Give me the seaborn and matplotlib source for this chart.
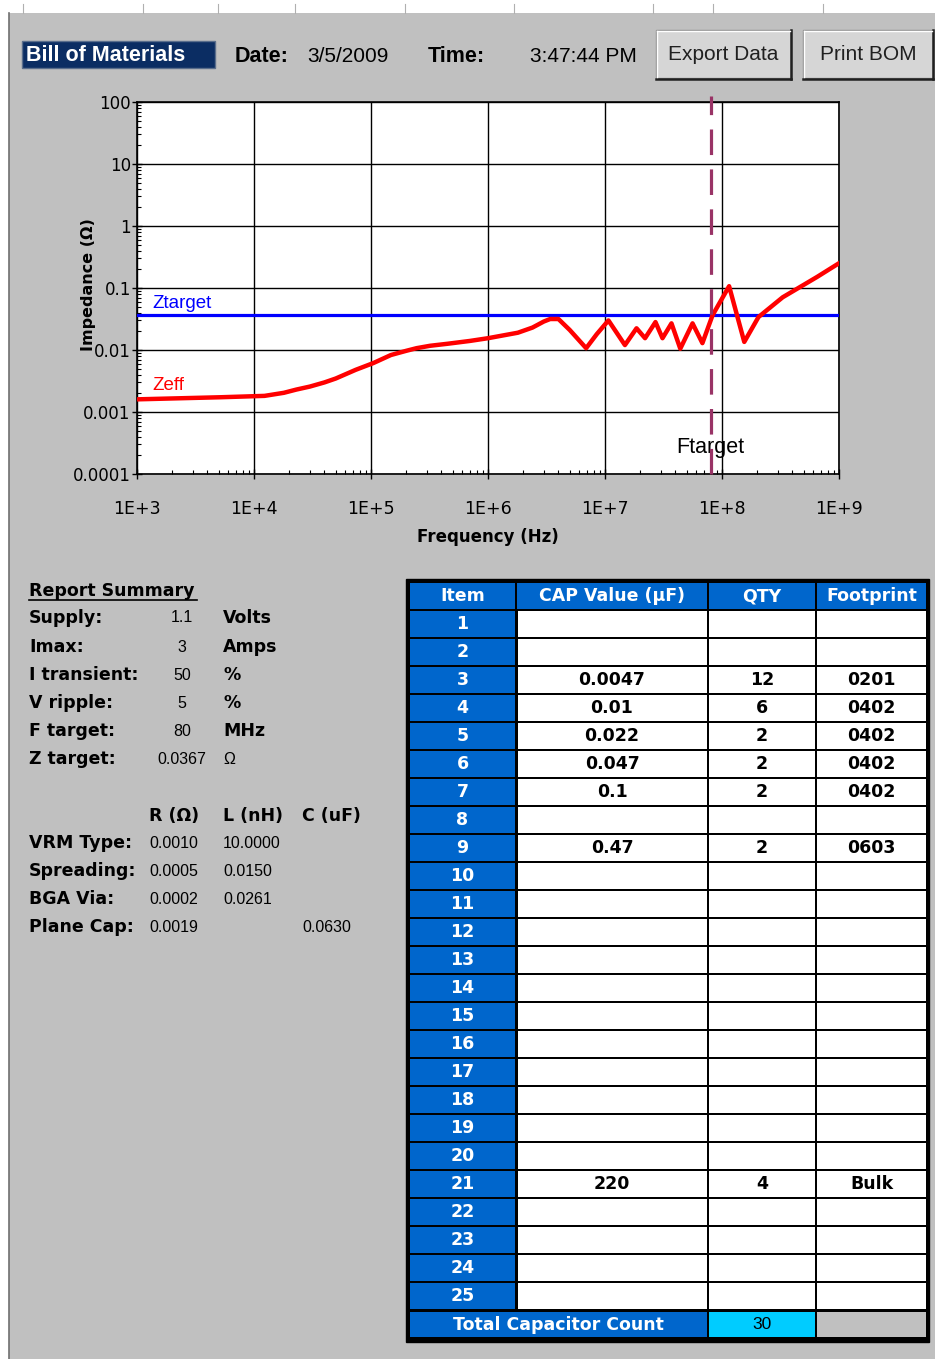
import matplotlib
matplotlib.use("Agg")
import matplotlib.pyplot as plt
from matplotlib.patches import Rectangle
from matplotlib.ticker import FixedLocator, FixedFormatter, LogLocator, NullFormatter
import seaborn as sns

# --- data ------------------------------------------------------------------
freq_hz = [1.0e3, 5.2e3, 1.23e4, 1.8e4, 2.3e4, 3.0e4, 4.0e4, 5.0e4, 7.4e4,
           1.05e5, 1.48e5, 2.0e5, 2.45e5, 3.2e5, 4.5e5, 7.0e5, 1.0e6, 1.8e6,
           2.4e6, 3.0e6, 3.4e6, 4.0e6, 5.0e6, 6.9e6, 8.5e6, 1.07e7, 1.48e7,
           1.86e7, 2.2e7, 2.7e7, 3.1e7, 3.7e7, 4.4e7, 5.6e7, 6.8e7, 8.3e7,
           1.15e8, 1.55e8, 2.05e8, 3.3e8, 6.5e8, 1.0e9]
zeff_ohm = [0.0016, 0.00173, 0.00182, 0.00204, 0.0023, 0.00257, 0.003, 0.00347,
            0.00479, 0.00617, 0.0083, 0.0097, 0.0107, 0.0117, 0.0126, 0.014,
            0.0155, 0.019, 0.023, 0.0288, 0.0316, 0.0316, 0.021, 0.0107, 0.018,
            0.030, 0.012, 0.0224, 0.0155, 0.0282, 0.0155, 0.0269, 0.0105, 0.0269,
            0.0129, 0.0363, 0.107, 0.0135, 0.034, 0.0708, 0.151, 0.251]
z_target = 0.0367
f_target_hz = 80e6

x_ticks = [1e3, 1e4, 1e5, 1e6, 1e7, 1e8, 1e9]
x_tick_labels = ["1E+3", "1E+4", "1E+5", "1E+6", "1E+7", "1E+8", "1E+9"]
y_ticks = [1e-4, 1e-3, 1e-2, 1e-1, 1, 10, 100]
y_tick_labels = ["0.0001", "0.001", "0.01", "0.1", "1", "10", "100"]

summary_labels = ["Supply:", "Imax:", "I transient:", "V ripple:", "F target:", "Z target:"]
summary_values = ["1.1", "3", "50", "5", "80", "0.0367"]
summary_units = ["Volts", "Amps", "%", "%", "MHz", "Ω"]

parasitic_labels = ["VRM Type:", "Spreading:", "BGA Via:", "Plane Cap:"]
r_values = ["0.0010", "0.0005", "0.0002", "0.0019"]
l_values = ["10.0000", "0.0150", "0.0261", ""]
c_values = ["", "", "", "0.0630"]

table_header = ["Item", "CAP Value (µF)", "QTY", "Footprint"]
n_items = 25
bom_item = [3, 4, 5, 6, 7, 9, 21]
bom_cap = ["0.0047", "0.01", "0.022", "0.047", "0.1", "0.47", "220"]
bom_qty = [12, 6, 2, 2, 2, 2, 4]
bom_footprint = ["0201", "0402", "0402", "0402", "0402", "0603", "Bulk"]

# --- colours ----------------------------------------------------------------
GREY = "#C0C0C0"
BLUE_CELL = "#0066CC"
CYAN = "#00CCFF"
NAVY = "#0B2D63"
W, H = 935, 1359

fig = plt.figure(figsize=(W / 100, H / 100), dpi=100, facecolor="white")

# overlay axes in pixel coordinates for the sheet around the chart
ov = fig.add_axes([0, 0, 1, 1])
ov.set_xlim(0, W)
ov.set_ylim(H, 0)
ov.axis("off")

ov.add_patch(Rectangle((9, 13), W - 9, H - 13, facecolor=GREY, edgecolor="none"))
ov.plot([9, 9], [13, H], color="#707070", lw=1.2)
for xt in [23, 143, 218, 295, 405, 514, 653, 713, 823]:
    ov.plot([xt, xt], [4, 13], color="#B0B0B0", lw=0.8)

# header row
ov.add_patch(Rectangle((22, 41), 193, 27, facecolor=NAVY, edgecolor="#5A6E8C", lw=1))
ov.text(26, 55.5, "Bill of Materials", color="white", fontsize=15.5, fontweight="bold",
        family="Liberation Sans", va="center", ha="left")
ov.text(235, 56, "Date:", fontsize=15.5, fontweight="bold", family="Liberation Sans", va="center")
ov.text(307, 56, "3/5/2009", fontsize=15, family="Liberation Sans", va="center")
ov.text(428, 56, "Time:", fontsize=15.5, fontweight="bold", family="Liberation Sans", va="center")
ov.text(530, 56, "3:47:44 PM", fontsize=15, family="Liberation Sans", va="center")

for bx, bw, label in [(656, 135, "Export Data"), (803, 130, "Print BOM")]:
    ov.add_patch(Rectangle((bx, 30), bw, 48, facecolor="#D6D6D6", edgecolor="#909090", lw=1))
    ov.plot([bx, bx + bw], [78.5, 78.5], color="#202020", lw=1.8)
    ov.plot([bx + bw, bx + bw], [30, 79], color="#202020", lw=1.8)
    ov.plot([bx + 1, bx + bw - 1], [31, 31], color="white", lw=1)
    ov.plot([bx + 1, bx + 1], [31, 77], color="white", lw=1)
    ov.text(bx + bw / 2, 55, label, fontsize=15, family="Liberation Sans",
            ha="center", va="center", color="#202020")

# --- impedance chart --------------------------------------------------------
left, right, top, bottom = 137, 839, 102, 474
ax = fig.add_axes([left / W, 1 - bottom / H, (right - left) / W, (bottom - top) / H])
ax.set_facecolor("white")
ax.set_xscale("log")
ax.set_yscale("log")
ax.set_xlim(1e3, 1e9)
ax.set_ylim(1e-4, 1e2)

ax.grid(True, which="major", color="black", lw=1)
ax.set_axisbelow(True)

ax.axhline(z_target, color="#0000FF", lw=2.3, zorder=3)
sns.lineplot(x=freq_hz, y=zeff_ohm, ax=ax, color="#FF0000", lw=3.2,
             estimator=None, sort=False, zorder=4)
ax.axvline(f_target_hz, ymin=0, ymax=1 + 6 / (bottom - top), color="#993366", lw=2.3,
           linestyle=(0, (8, 4.5)), clip_on=False, zorder=5)

ax.text(1.35e3, z_target * 1.55, "Ztarget", color="#0000FF", fontsize=13.5,
        family="Liberation Sans", va="center")
ax.text(1.35e3, 0.00263, "Zeff", color="#FF0000", fontsize=13.5,
        family="Liberation Sans", va="center")
ax.text(f_target_hz * 1.0, 0.000272, "Ftarget", color="black", fontsize=15.5,
        family="Liberation Sans", ha="center", va="center")

ax.xaxis.set_major_locator(FixedLocator(x_ticks))
ax.xaxis.set_major_formatter(FixedFormatter(x_tick_labels))
ax.yaxis.set_major_locator(FixedLocator(y_ticks))
ax.yaxis.set_major_formatter(FixedFormatter(y_tick_labels))
ax.xaxis.set_minor_locator(LogLocator(base=10, subs=range(2, 10), numticks=20))
ax.yaxis.set_minor_locator(LogLocator(base=10, subs=range(2, 10), numticks=20))
ax.xaxis.set_minor_formatter(NullFormatter())
ax.yaxis.set_minor_formatter(NullFormatter())

ax.tick_params(axis="x", which="major", direction="inout", length=7, width=1,
               pad=15, labelsize=12.5)
ax.tick_params(axis="y", which="major", direction="inout", length=7, width=1,
               pad=1, labelsize=12)
ax.tick_params(which="minor", direction="in", length=3, width=0.8)
for lab in ax.get_xticklabels() + ax.get_yticklabels():
    lab.set_family("DejaVu Sans")

for sp in ax.spines.values():
    sp.set_color("black")
    sp.set_linewidth(1.2)

ax.set_xlabel("Frequency (Hz)", fontsize=12, fontweight="bold", family="DejaVu Sans")
ax.xaxis.set_label_coords(0.5, -(528 - bottom) / (bottom - top))
ax.set_ylabel("Impedance (Ω)", fontsize=11.5, fontweight="bold", family="DejaVu Sans")
ax.yaxis.set_label_coords(-(left - 96) / (right - left), (bottom - 285) / (bottom - top))

# --- report summary ---------------------------------------------------------
lab_kw = dict(fontsize=12.5, fontweight="bold", family="DejaVu Sans", va="center")
val_kw = dict(fontsize=11.5, family="Liberation Sans", va="center")

ov.text(29, 591, "Report Summary", **lab_kw)
ov.plot([29, 197], [600, 600], color="black", lw=1.2)
row_y = [618, 647, 675, 703, 731, 759]
for y, lab, val, unit in zip(row_y, summary_labels, summary_values, summary_units):
    ov.text(29, y, lab, **lab_kw)
    ov.text(182, y, val, ha="center", **val_kw)
    if unit == "Ω":
        ov.text(223, y, unit, **val_kw)
    else:
        ov.text(223, y, unit, **lab_kw)

ov.text(149, 816, "R (Ω)", **lab_kw)
ov.text(223, 816, "L (nH)", **lab_kw)
ov.text(302, 816, "C (uF)", **lab_kw)
par_y = [843, 871, 899, 927]
for y, lab, r, l, c in zip(par_y, parasitic_labels, r_values, l_values, c_values):
    ov.text(29, y, lab, **lab_kw)
    ov.text(149, y, r, **val_kw)
    ov.text(223, y, l, **val_kw)
    ov.text(302, y, c, **val_kw)

# --- bill of materials table -----------------------------------------------
col_edges = [409, 516, 708, 816, 927]
col_mid = [(a + b) / 2 for a, b in zip(col_edges[:-1], col_edges[1:])]
head_top, row_h = 582, 28
first_row_top = 610

ov.add_patch(Rectangle((406, 579), 523, 763, facecolor="black", edgecolor="black", lw=1))

cell_kw = dict(fontsize=12.5, fontweight="bold", family="DejaVu Sans", ha="center", va="center")

# header
for i, (a, b) in enumerate(zip(col_edges[:-1], col_edges[1:])):
    ov.add_patch(Rectangle((a + 1, head_top + 1), b - a - 2, row_h - 2,
                           facecolor=BLUE_CELL, edgecolor="none"))
    ov.text(col_mid[i], head_top + row_h / 2, table_header[i], color="white", **cell_kw)

bom_lookup = {it: (cap, qty, fp) for it, cap, qty, fp in zip(bom_item, bom_cap, bom_qty, bom_footprint)}
for r in range(n_items):
    item = r + 1
    y0 = first_row_top + r * row_h
    for i, (a, b) in enumerate(zip(col_edges[:-1], col_edges[1:])):
        face = BLUE_CELL if i == 0 else "white"
        pad_l = 1 if i != 1 else 2
        ov.add_patch(Rectangle((a + pad_l, y0 + 1), b - a - pad_l - 1, row_h - 2,
                               facecolor=face, edgecolor="none"))
    yc = y0 + row_h / 2
    ov.text(col_mid[0], yc, str(item), color="white", **cell_kw)
    if item in bom_lookup:
        cap, qty, fp = bom_lookup[item]
        ov.text(col_mid[1], yc, cap, color="black", **cell_kw)
        ov.text(col_mid[2], yc, str(qty), color="black", **cell_kw)
        ov.text(col_mid[3], yc, fp, color="black", **cell_kw)

# total row
ty = first_row_top + n_items * row_h + 2
ov.add_patch(Rectangle((col_edges[0] + 1, ty), col_edges[2] - col_edges[0] - 2, row_h - 3,
                       facecolor=BLUE_CELL, edgecolor="none"))
ov.add_patch(Rectangle((col_edges[2] + 1, ty), col_edges[3] - col_edges[2] - 2, row_h - 3,
                       facecolor=CYAN, edgecolor="none"))
ov.add_patch(Rectangle((col_edges[3] + 1, ty), col_edges[4] - col_edges[3] - 2, row_h - 3,
                       facecolor=GREY, edgecolor="none"))
ov.text((col_edges[0] + col_edges[2]) / 2, ty + (row_h - 3) / 2, "Total Capacitor Count",
        color="white", **cell_kw)
ov.text(col_mid[2], ty + (row_h - 3) / 2, str(sum(bom_qty)), color="black", fontsize=12.5,
        family="Liberation Sans", ha="center", va="center")

fig.savefig("out.png", dpi=100, facecolor=fig.get_facecolor())
